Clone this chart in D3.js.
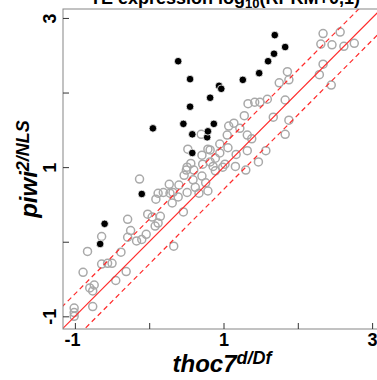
<!DOCTYPE html>
<html>
<head>
<meta charset="utf-8">
<script src="https://cdn.jsdelivr.net/npm/d3@7"></script>
<style>
  body { margin: 0; background: #fff; }
  svg { display: block; font-family: "Liberation Sans", Arial, sans-serif; }
</style>
</head>
<body>
<div id="chart"></div>
<script>
// axis ticks
const tickValues = [-1, 0, 1, 2, 3];
const tickLabels = ["-1", "", "1", "", "3"];

// fold-change reference lines (y = x, y = x +/- log10(2))
const refOffsets = [0, 0.3, -0.3];

// grey open circles: log10 expression, thoc7 (x) vs piwi (y)
const grayX = [2.34, 2.57, 2.31, 2.46, 2.62, 2.76, 2.34, 2.29, 2.45, 1.86,
  1.88, 1.75, 1.83, 1.59, 1.49, 1.42, 1.33, 1.67, 1.88, 1.83,
  1.28, 1.14, 1.07, 1.22, 1.05, 1.32, 1.38, 0.95, 0.82, 1.06,
  0.95, 1.17, 1.32, 1.57, 1.47, 0.72, 0.86, 1.16, 1.30, 0.70,
  0.52, 0.79, 0.71, 0.89, 0.82, 0.56, 0.50, 0.60, 0.89, 0.99,
  0.47, 0.71, 0.59, 0.27, 0.40, 0.76, 0.62, 0.79, 0.51, 0.19,
  0.32, 1.02, -0.13, 0.12, 0.09, 0.28, 0.31, 0.39, 0.46, 0.51,
  0.67, -0.29, -0.02, 0.04, 0.15, 0.12, 0.08, -0.04, -0.10, -0.17,
  -0.25, -0.29, 0.33, -0.64, -0.83, -0.38, -0.64, -0.56, -0.50, -0.89,
  -0.31, -0.45, -0.74, -0.80, -0.76, -0.76, -1.01, -1.01, -1.01];
const grayY = [2.79, 2.81, 2.65, 2.64, 2.62, 2.66, 2.38, 2.24, 2.10, 2.28,
  2.17, 2.13, 1.90, 1.91, 1.87, 1.87, 1.85, 1.67, 1.63, 1.44,
  1.69, 1.59, 1.55, 1.52, 1.43, 1.43, 1.38, 1.31, 1.23, 1.26,
  1.19, 1.17, 1.22, 1.22, 1.07, 1.04, 1.01, 1.01, 0.96, 1.44,
  1.24, 1.24, 1.16, 1.12, 1.07, 1.05, 0.96, 0.96, 0.95, 1.00,
  0.89, 0.88, 0.83, 0.77, 0.76, 0.79, 0.73, 0.68, 0.66, 0.66,
  0.66, 1.04, 0.84, 0.65, 0.57, 0.65, 0.52, 0.60, 0.40, 1.00,
  0.65, 0.30, 0.37, 0.33, 0.34, 0.25, 0.21, 0.10, 0.03, 0.01,
  0.15, 0.06, -0.06, 0.07, -0.13, -0.14, -0.30, -0.29, -0.29, -0.41,
  -0.40, -0.52, -0.58, -0.62, -0.66, -0.87, -0.89, -0.95, -1.00];

// black filled dots
const blackX = [0.39, 0.55, 0.05, 0.55, 0.82, 0.46, 0.58, 0.87, 0.78, 0.79,
  0.58, 0.94, 0.97, 1.69, 1.83, 1.68, 1.60, 1.48, 1.26, -0.10,
  -0.60, -0.66];
const blackY = [2.42, 2.18, 1.52, 1.81, 1.93, 1.58, 1.44, 1.58, 1.40, 1.48,
  1.19, 2.09, 2.05, 2.77, 2.61, 2.52, 2.42, 2.26, 2.17, 0.64,
  0.24, -0.03];

const width = 377, height = 380;
const plot = { left: 63, right: 384, top: 9, bottom: 329 };
const refColor = "#ff2a2a";

const x = d3.scaleLinear().domain([-1.16, 3.16]).range([plot.left, plot.right]);
const y = d3.scaleLinear().domain([-1.17, 3.12]).range([plot.bottom, plot.top]);

const svg = d3.select("#chart").append("svg")
  .attr("width", width)
  .attr("height", height);

svg.append("rect").attr("width", width).attr("height", height).attr("fill", "#fff");

svg.append("clipPath").attr("id", "clip")
  .append("rect")
  .attr("x", plot.left).attr("y", plot.top)
  .attr("width", plot.right - plot.left).attr("height", plot.bottom - plot.top);

const g = svg.append("g").attr("clip-path", "url(#clip)");

// grey circles
g.append("g").selectAll("circle")
  .data(grayX.map((v, i) => [v, grayY[i]]))
  .join("circle")
  .attr("cx", d => x(d[0]))
  .attr("cy", d => y(d[1]))
  .attr("r", 4)
  .attr("fill", "none")
  .attr("stroke", "#a9a9a9")
  .attr("stroke-width", 1.5);

// black dots
g.append("g").selectAll("circle")
  .data(blackX.map((v, i) => [v, blackY[i]]))
  .join("circle")
  .attr("cx", d => x(d[0]))
  .attr("cy", d => y(d[1]))
  .attr("r", 3.8)
  .attr("fill", "#000")
  .attr("stroke", "#fff")
  .attr("stroke-width", 0.8);

// reference lines
refOffsets.forEach(off => {
  const ln = g.append("line")
    .attr("x1", x(-1.5)).attr("y1", y(-1.5 + off))
    .attr("x2", x(3.5)).attr("y2", y(3.5 + off))
    .style("stroke", refColor)
    .style("stroke-width", 1.2);
  if (off !== 0) ln.style("stroke-dasharray", "5,3.5");
});

// frame
svg.append("rect")
  .attr("x", plot.left).attr("y", plot.top)
  .attr("width", plot.right - plot.left).attr("height", plot.bottom - plot.top)
  .attr("fill", "none")
  .attr("stroke", "#858585")
  .attr("stroke-width", 1);

const fmt = d => tickLabels[tickValues.indexOf(d)];

const xAxis = svg.append("g")
  .attr("transform", `translate(0,${plot.bottom})`)
  .call(d3.axisBottom(x).tickValues(tickValues).tickFormat(fmt)
    .tickSizeInner(-6).tickSizeOuter(0).tickPadding(4));

const yAxis = svg.append("g")
  .attr("transform", `translate(${plot.left},0)`)
  .call(d3.axisLeft(y).tickValues(tickValues).tickFormat(fmt)
    .tickSizeInner(-6).tickSizeOuter(0).tickPadding(4));

[xAxis, yAxis].forEach(a => {
  a.select(".domain").remove();
  a.selectAll(".tick line").attr("stroke", "#333").attr("stroke-width", 1);
  a.selectAll(".tick text")
    .attr("fill", "#000")
    .style("font-size", "18px")
    .style("font-weight", "bold")
    .style("font-family", "'Liberation Sans', Arial, sans-serif");
});

xAxis.selectAll(".tick text")
  .attr("dx", d => d < 0 ? -3 : 0);

yAxis.selectAll(".tick text")
  .attr("x", 0).attr("y", 0).attr("dy", 0)
  .attr("text-anchor", "middle")
  .attr("transform", "translate(-7,0) rotate(-90)");

// title (clipped at the top in the original)
const title = svg.append("text")
  .attr("x", 225).attr("y", 3.5)
  .attr("text-anchor", "middle")
  .style("font-size", "18px")
  .style("font-weight", "bold");
title.append("tspan").text("TE expression log");
title.append("tspan").attr("dy", 4).style("font-size", "13px").text("10");
title.append("tspan").attr("dy", -4).text("(RPKM+0,1)");

// x label
const xl = svg.append("text")
  .attr("x", 222).attr("y", 372)
  .attr("text-anchor", "middle")
  .style("font-weight", "bold")
  .style("font-style", "italic");
xl.append("tspan").style("font-size", "24px").text("thoc7");
xl.append("tspan").attr("dy", -8).style("font-size", "18px").text("d/Df");

// y label
const yl = svg.append("text")
  .attr("transform", "translate(37,169) rotate(-90)")
  .attr("text-anchor", "middle")
  .style("font-weight", "bold")
  .style("font-style", "italic");
yl.append("tspan").style("font-size", "24px").text("piwi");
yl.append("tspan").attr("dy", -8).style("font-size", "18px").text("2/NLS");
</script>
</body>
</html>
